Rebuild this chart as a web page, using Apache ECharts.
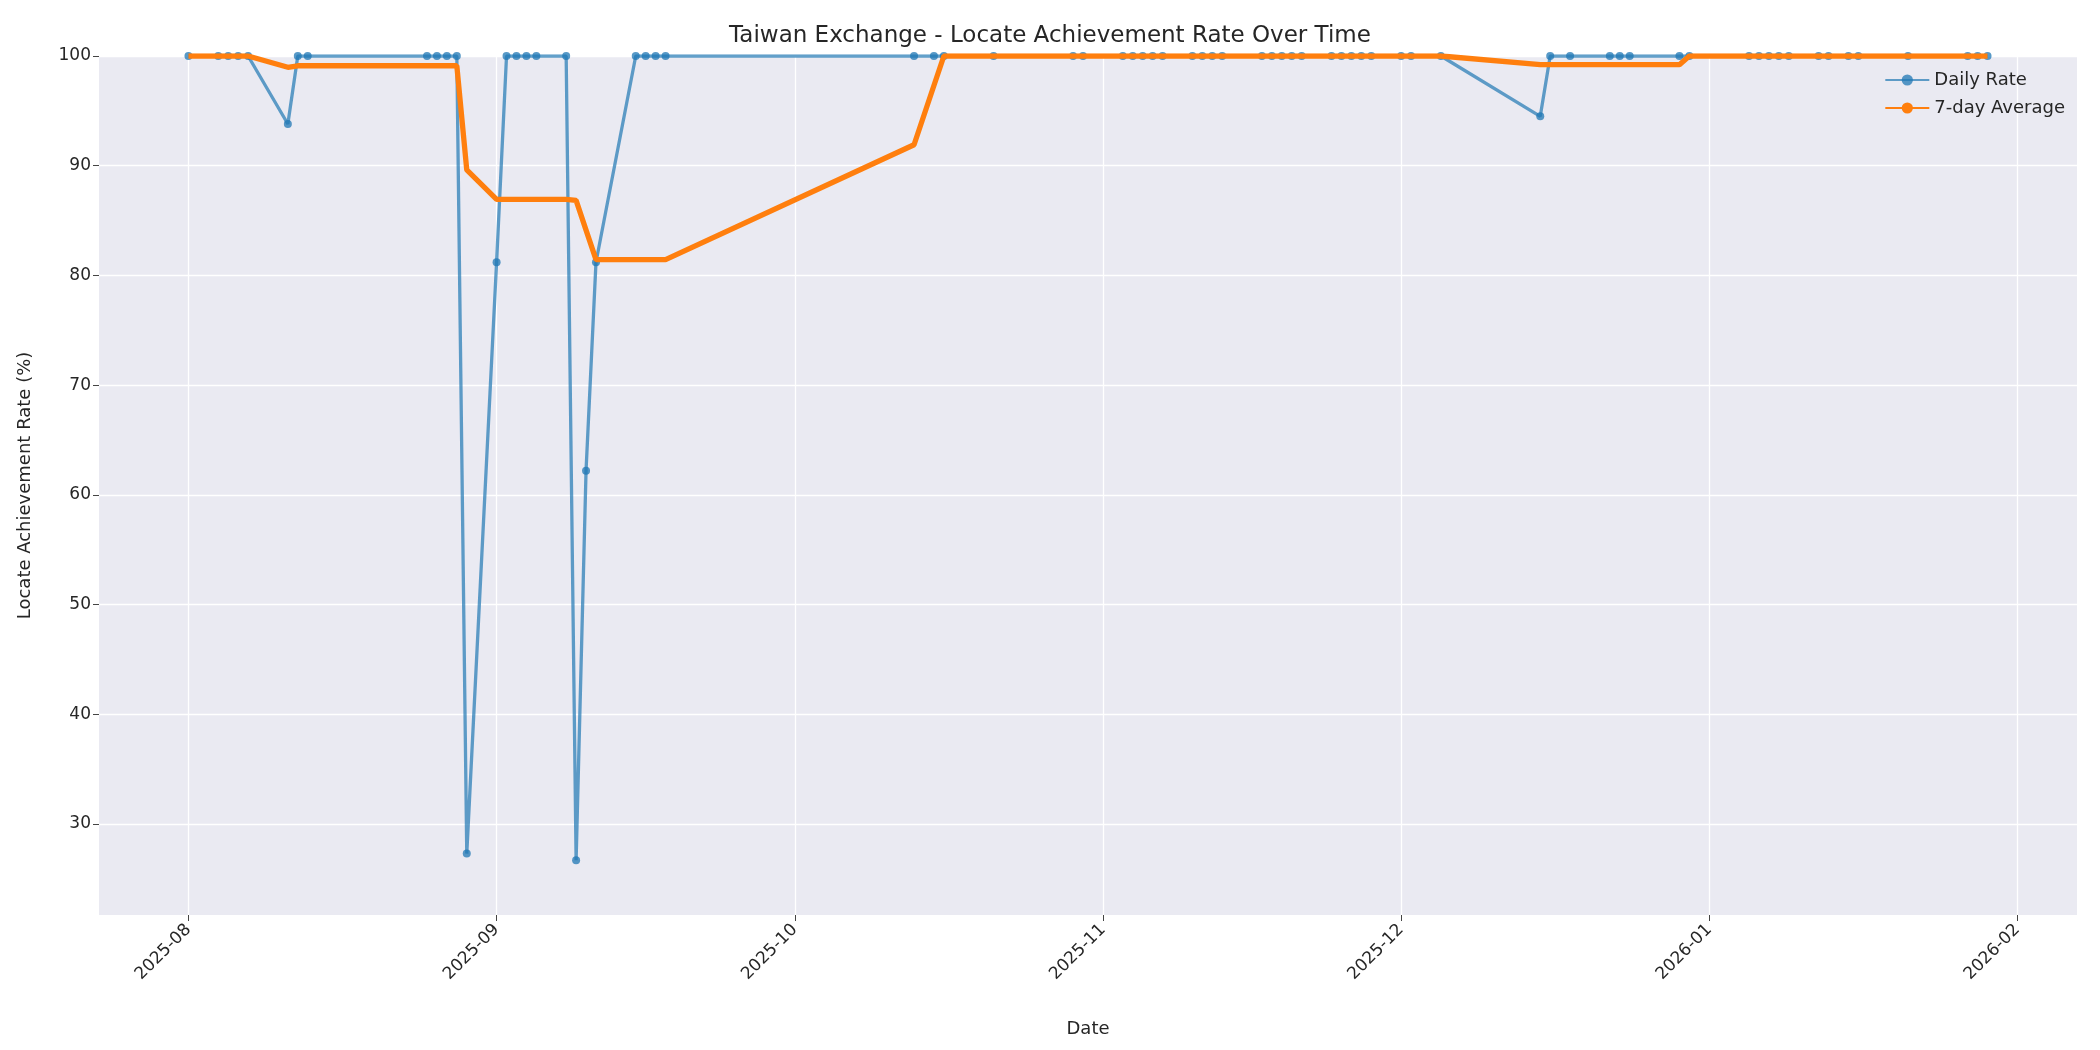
<!DOCTYPE html>
<html><head><meta charset="utf-8">
<script src="https://cdn.jsdelivr.net/npm/echarts@6/dist/echarts.min.js"></script>
<style>html,body{margin:0;padding:0;background:#fff}#c{width:2100px;height:1050px}</style>
</head><body><div id="c"></div>
<script>
const dates = ['2025-08-01','2025-08-04','2025-08-05','2025-08-06','2025-08-07','2025-08-11','2025-08-12','2025-08-13',
'2025-08-25','2025-08-26','2025-08-27','2025-08-28','2025-08-29','2025-09-01','2025-09-02','2025-09-03','2025-09-04','2025-09-05',
'2025-09-08','2025-09-09','2025-09-10','2025-09-11','2025-09-15','2025-09-16','2025-09-17','2025-09-18',
'2025-10-13','2025-10-15','2025-10-16','2025-10-21','2025-10-29','2025-10-30',
'2025-11-03','2025-11-04','2025-11-05','2025-11-06','2025-11-07','2025-11-10','2025-11-11','2025-11-12','2025-11-13',
'2025-11-17','2025-11-18','2025-11-19','2025-11-20','2025-11-21','2025-11-24','2025-11-25','2025-11-26','2025-11-27','2025-11-28',
'2025-12-01','2025-12-02','2025-12-05','2025-12-15','2025-12-16','2025-12-18','2025-12-22','2025-12-23','2025-12-24','2025-12-29','2025-12-30',
'2026-01-05','2026-01-06','2026-01-07','2026-01-08','2026-01-09','2026-01-12','2026-01-13','2026-01-15','2026-01-16','2026-01-21',
'2026-01-27','2026-01-28','2026-01-29'];
const dailyRate = [100,100,100,100,100,93.8,100,100,
100,100,100,100,27.3,81.2,100,100,100,100,
100,26.7,62.2,81.2,100,100,100,100,
100,100,100,100,100,100,
100,100,100,100,100,100,100,100,100,
100,100,100,100,100,100,100,100,100,100,
100,100,100,94.5,100,100,100,100,100,100,100,
100,100,100,100,100,100,100,100,100,100,
100,100,100];
const avg7 = [100,100,100,100,100,98.97,99.11,99.11,
99.11,99.11,99.11,99.11,89.61,86.93,86.93,86.93,86.93,86.93,
86.93,86.84,84.13,81.44,81.44,81.44,81.44,81.44,
91.91,97.31,100,100,100,100,
100,100,100,100,100,100,100,100,100,
100,100,100,100,100,100,100,100,100,100,
100,100,100,99.21,99.21,99.21,99.21,99.21,99.21,99.21,100,
100,100,100,100,100,100,100,100,100,100,
100,100,100];
const monthTicks = ['2025-08-01','2025-09-01','2025-10-01','2025-11-01','2025-12-01','2026-01-01','2026-02-01'];
const yTicks = [30,40,50,60,70,80,90,100];

const ts = d => new Date(d + 'T00:00:00Z').getTime();
const fmt = v => { const d = new Date(v); return d.getUTCFullYear() + '-' + String(d.getUTCMonth()+1).padStart(2,'0'); };
const F = 'DejaVu Sans';
const chart = echarts.init(document.getElementById('c'));
chart.setOption({
  animation:false,
  backgroundColor:'#fff',
  title:{text:'Taiwan Exchange - Locate Achievement Rate Over Time',left:'center',top:20,textStyle:{fontFamily:F,fontSize:23,fontWeight:'normal',color:'#262626'}},
  legend:{right:30,top:66,orient:'vertical',itemGap:10,itemWidth:44,itemHeight:14,textStyle:{fontFamily:F,fontSize:18,color:'#262626'},
    data:[{name:'Daily Rate'},{name:'7-day Average'}]},
  grid:{left:99,right:23,top:56,bottom:135,show:true,backgroundColor:'#EAEAF2',borderWidth:0},
  xAxis:{type:'value',min:ts('2025-07-23'),max:ts('2026-02-07'),
    name:'Date',nameLocation:'middle',nameGap:105,nameTextStyle:{fontFamily:F,fontSize:18,color:'#262626'},
    axisLine:{show:false},axisTick:{show:true,customValues:monthTicks.map(ts),lineStyle:{color:'#444'},length:6},
    axisLabel:{customValues:monthTicks.map(ts),rotate:45,formatter:fmt,fontFamily:F,fontSize:17,color:'#262626',margin:12},
    splitLine:{show:true,lineStyle:{color:'#fff',width:1.3}}},
  yAxis:{type:'value',min:21.7,max:100,
    name:'Locate Achievement Rate (%)',nameLocation:'middle',nameGap:65,nameTextStyle:{fontFamily:F,fontSize:18,color:'#262626'},
    axisLine:{show:false},axisTick:{show:true,customValues:yTicks,lineStyle:{color:'#444'},length:6},
    axisLabel:{customValues:yTicks,fontFamily:F,fontSize:17,color:'#262626'},
    splitLine:{show:true,lineStyle:{color:'#fff',width:1.3}}},
  series:[
    {name:'Daily Rate',type:'line',data:dates.map((d,i)=>[ts(d),dailyRate[i]]),
      symbol:'circle',symbolSize:8,itemStyle:{color:'#1f77b4',opacity:0.75},lineStyle:{color:'#1f77b4',width:3.3,opacity:0.7},z:2},
    {name:'7-day Average',type:'line',data:dates.map((d,i)=>[ts(d),avg7[i]]),
      symbol:'none',itemStyle:{color:'#ff7f0e'},lineStyle:{color:'#ff7f0e',width:5.3},z:3}
  ]
});
</script></body></html>
